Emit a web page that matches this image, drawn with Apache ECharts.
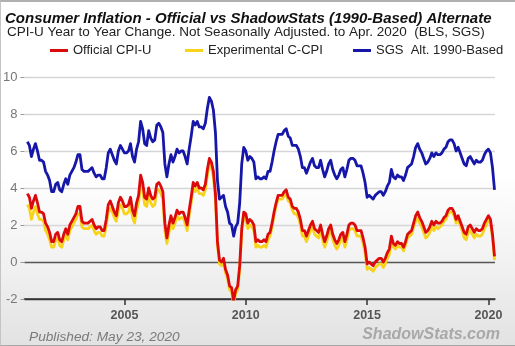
<!DOCTYPE html>
<html>
<head>
<meta charset="utf-8">
<script src="https://cdn.jsdelivr.net/npm/echarts@6/dist/echarts.min.js"></script>
<style>
html,body{margin:0;padding:0;}
body{width:515px;height:346px;overflow:hidden;background:linear-gradient(to bottom,#ffffff 0%,#ffffff 50%,#f2f2f2 75%,#e2e2e2 100%);}
#frame{position:absolute;left:0;top:0;width:514px;height:343px;border-top:2px solid #b0b0b0;border-left:1px solid #c4c4c4;border-bottom:1px solid #a8a8a8;}
#chart{position:absolute;left:0;top:0;width:515px;height:346px;}
</style>
</head>
<body>
<div id="frame"></div>
<div id="chart"></div>
<script>
// ---- Data (monthly, Jan 2001 - Apr 2020) ----
const startYear = 2001;
const xTickYears = [2005, 2010, 2015, 2020];
const yTicks = [-2, 0, 2, 4, 6, 8, 10];

const officialCPI = [
 3.7,3.5,2.9,3.3,3.6,3.2,2.7,2.7,2.6,2.1,1.9,1.6,
 1.1,1.1,1.5,1.6,1.2,1.1,1.5,1.8,1.5,2.0,2.2,2.4,
 2.6,3.0,3.0,2.2,2.1,2.1,2.1,2.2,2.3,2.0,1.8,1.9,
 1.9,1.7,1.7,2.3,3.1,3.3,3.0,2.7,2.5,3.2,3.5,3.3,
 3.0,3.0,3.1,3.5,2.8,2.5,3.2,3.6,4.7,4.3,3.5,3.4,
 4.0,3.6,3.4,3.5,4.2,4.3,4.1,3.8,2.1,1.3,2.0,2.5,
 2.1,2.4,2.8,2.6,2.7,2.7,2.4,2.0,2.8,3.5,4.3,4.1,
 4.3,4.0,4.0,3.9,4.2,5.0,5.6,5.4,4.9,3.7,1.1,0.1,
 0.0,0.2,-0.4,-0.7,-1.3,-1.4,-2.1,-1.5,-1.3,-0.2,1.8,2.7,
 2.6,2.1,2.3,2.2,2.0,1.1,1.2,1.1,1.1,1.2,1.1,1.5,
 1.6,2.1,2.7,3.2,3.6,3.6,3.6,3.8,3.9,3.5,3.4,3.0,
 2.9,2.9,2.7,2.3,1.7,1.7,1.4,1.7,2.0,2.2,1.8,1.7,
 1.6,2.0,1.5,1.1,1.4,1.8,2.0,1.5,1.2,1.0,1.2,1.5,
 1.6,1.1,1.5,2.0,2.1,2.1,2.0,1.7,1.7,1.7,1.3,0.8,
 -0.1,0.0,-0.1,-0.2,0.0,0.1,0.2,0.2,0.0,0.2,0.5,0.7,
 1.4,1.0,0.9,1.1,1.0,1.0,0.8,1.1,1.5,1.6,1.7,2.1,
 2.5,2.7,2.4,2.2,1.9,1.6,1.7,1.9,2.2,2.0,2.2,2.1,
 2.1,2.2,2.4,2.5,2.8,2.9,2.9,2.7,2.3,2.5,2.2,1.9,
 1.6,1.5,1.9,2.0,1.8,1.6,1.8,1.7,1.7,1.8,2.1,2.3,
 2.5,2.3,1.5,0.3
];

const experimentalCCPI = [
 3.1,2.9,2.3,2.7,3.0,2.6,2.3,2.3,2.2,1.7,1.5,1.2,
 0.8,0.8,1.2,1.3,0.9,0.8,1.2,1.5,1.2,1.7,1.9,2.1,
 2.3,2.6,2.6,1.9,1.8,1.8,1.8,1.9,2.0,1.7,1.5,1.6,
 1.6,1.4,1.4,2.0,2.7,2.9,2.7,2.4,2.2,2.8,3.1,2.9,
 2.6,2.6,2.7,3.1,2.4,2.1,2.8,3.2,4.3,3.9,3.1,3.0,
 3.6,3.2,3.0,3.1,3.8,3.9,3.7,3.4,1.7,1.0,1.6,2.1,
 1.8,2.1,2.5,2.3,2.4,2.4,2.1,1.7,2.5,3.2,4.0,3.8,
 4.0,3.7,3.7,3.6,3.9,4.7,5.3,5.1,4.6,3.4,0.9,-0.1,
 -0.2,0.0,-0.6,-0.9,-1.5,-1.6,-2.3,-1.7,-1.5,-0.4,1.6,2.5,
 2.3,1.8,2.0,1.9,1.7,0.8,0.9,0.8,0.8,0.9,0.8,1.2,
 1.4,1.9,2.5,3.0,3.4,3.4,3.4,3.6,3.7,3.3,3.2,2.8,
 2.6,2.6,2.4,2.0,1.4,1.4,1.1,1.4,1.7,1.9,1.5,1.4,
 1.3,1.7,1.2,0.8,1.1,1.5,1.7,1.2,0.9,0.7,0.9,1.2,
 1.3,0.8,1.2,1.7,1.8,1.8,1.7,1.4,1.4,1.4,1.0,0.5,
 -0.4,-0.3,-0.4,-0.5,-0.3,-0.2,-0.1,-0.1,-0.3,-0.1,0.2,0.4,
 1.2,0.8,0.7,0.9,0.8,0.8,0.6,0.9,1.3,1.4,1.5,1.9,
 2.2,2.4,2.1,1.9,1.6,1.3,1.4,1.6,1.9,1.7,1.9,1.8,
 1.9,2.0,2.2,2.3,2.6,2.7,2.7,2.5,2.1,2.3,2.0,1.7,
 1.3,1.2,1.6,1.7,1.5,1.3,1.5,1.4,1.4,1.5,1.8,2.0,
 2.3,2.1,1.3,0.1
];

const sgsAlt1990 = [
 6.5,6.3,5.7,6.1,6.4,6.0,5.5,5.5,5.4,4.9,4.7,4.4,
 3.8,3.8,4.2,4.3,3.9,3.8,4.2,4.5,4.2,4.7,4.9,5.1,
 5.4,5.8,5.8,5.0,4.9,4.9,4.9,5.0,5.1,4.8,4.6,4.7,
 4.7,4.5,4.5,5.1,5.9,6.1,5.8,5.5,5.3,6.0,6.3,6.1,
 5.9,5.9,6.0,6.4,5.7,5.4,6.1,6.5,7.6,7.2,6.4,6.3,
 7.1,6.7,6.5,6.6,7.4,7.5,7.3,7.0,5.3,4.6,5.3,5.8,
 5.4,5.7,6.1,5.9,6.0,6.0,5.7,5.3,6.1,6.8,7.6,7.4,
 7.6,7.3,7.3,7.2,7.5,8.3,8.9,8.7,8.2,7.0,4.4,3.4,
 3.5,3.6,3.0,2.7,2.1,2.0,1.4,1.9,2.1,3.2,5.3,6.2,
 6.0,5.5,5.7,5.6,5.4,4.5,4.6,4.5,4.5,4.6,4.5,4.9,
 4.9,5.4,6.0,6.5,6.9,6.9,6.9,7.1,7.2,6.8,6.7,6.3,
 6.3,6.3,6.1,5.7,5.1,5.1,4.8,5.1,5.4,5.6,5.2,5.1,
 5.1,5.5,5.0,4.6,4.9,5.3,5.5,5.0,4.7,4.5,4.7,5.0,
 5.1,4.6,5.0,5.5,5.6,5.6,5.5,5.2,5.2,5.2,4.8,4.3,
 3.5,3.6,3.5,3.4,3.6,3.7,3.8,3.8,3.6,3.8,4.1,4.3,
 5.0,4.6,4.5,4.7,4.6,4.6,4.4,4.7,5.1,5.2,5.3,5.7,
 6.2,6.4,6.1,5.9,5.6,5.3,5.4,5.6,5.9,5.7,5.9,5.8,
 5.8,5.9,6.1,6.2,6.5,6.6,6.6,6.4,6.0,6.2,5.9,5.6,
 5.3,5.2,5.6,5.7,5.5,5.3,5.5,5.4,5.4,5.5,5.8,6.0,
 6.1,5.9,5.1,3.9
];

const seriesNames = ['Official CPI-U', 'Experimental C-CPI', 'SGS  Alt. 1990-Based'];

// month categories
const months = officialCPI.map((_, i) => {
  const y = startYear + Math.floor(i / 12);
  const m = (i % 12) + 1;
  return y + '-' + (m < 10 ? '0' + m : m);
});
function toX(label) { const p = label.split('-'); return +p[0] + (+p[1] - 1) / 12; }
function pairs(vals) { return vals.map((v, i) => [toX(months[i]), v]); }

const chart = echarts.init(document.getElementById('chart'), null, {renderer: 'canvas'});
const FONT = '"Liberation Sans", Arial, sans-serif';
const legendText = {fontFamily: FONT, fontSize: 13, color: '#222'};
function legendFor(name, left) {
  return {left: left, top: 44, itemWidth: 18, itemHeight: 3, itemGap: 0, icon: 'rect',
          padding: 0, textStyle: legendText, data: [name]};
}
chart.setOption({
  backgroundColor: 'transparent',
  animation: false,
  textStyle: {fontFamily: FONT},
  title: [
    {text: 'Consumer Inflation - Official vs ShadowStats (1990-Based) Alternate', left: 0, top: 6,
     textStyle: {fontFamily: FONT, fontSize: 15, fontWeight: 'bold', fontStyle: 'italic', color: '#111'}},
    {text: 'CPI-U Year to Year Change. Not Seasonally Adjusted. to Apr. 2020  (BLS, SGS)', left: 2, top: 20,
     textStyle: {fontFamily: FONT, fontSize: 13.5, fontWeight: 'normal', color: '#222'}},
    {text: 'Published: May 23, 2020', left: 24, top: 325,
     textStyle: {fontFamily: FONT, fontSize: 13.7, fontWeight: 'normal', fontStyle: 'italic', color: '#7a7a7a'}},
    {text: 'ShadowStats.com', right: 10, top: 322,
     textStyle: {fontFamily: FONT, fontSize: 16, fontWeight: 'bold', fontStyle: 'italic', color: '#a8a8a8'}}
  ],
  legend: [legendFor(seriesNames[0], 50), legendFor(seriesNames[1], 185), legendFor(seriesNames[2], 353)],
  grid: {left: 21, top: 77, width: 474, height: 222, containLabel: false},
  xAxis: {
    type: 'value', min: 2000.88, max: 2020.27, position: 'bottom',
    axisLine: {show: true, onZero: false, lineStyle: {color: '#333', width: 1.5}},
    axisTick: {show: true, customValues: xTickYears, length: 6, lineStyle: {color: '#333', width: 1.5}},
    axisLabel: {customValues: xTickYears, margin: 10, fontFamily: FONT, fontSize: 12.5, fontWeight: 'bold', color: '#555',
                formatter: v => String(Math.round(v))},
    splitLine: {show: false}
  },
  yAxis: {
    type: 'value', min: -2, max: 10, interval: 2,
    axisLine: {show: false},
    axisTick: {show: true, length: 4, lineStyle: {color: '#999'}},
    axisLabel: {margin: 7, fontFamily: FONT, fontSize: 13, color: '#777'},
    splitLine: {show: true, showMinLine: true, showMaxLine: true,
                lineStyle: {color: ['#3a3a3a', '#555', '#d6d6d6', '#d6d6d6', '#d6d6d6', '#d6d6d6', '#d6d6d6'], width: 1.3}}
  },
  series: [
    {name: seriesNames[1], type: 'line', data: pairs(experimentalCCPI), showSymbol: false,
     lineStyle: {color: '#f8d31c', width: 2.8, join: 'round'}, itemStyle: {color: '#f8d31c'}, z: 2},
    {name: seriesNames[0], type: 'line', data: pairs(officialCPI), showSymbol: false,
     lineStyle: {color: '#dc0a0a', width: 2.8, join: 'round'}, itemStyle: {color: '#dc0a0a'}, z: 3},
    {name: seriesNames[2], type: 'line', data: pairs(sgsAlt1990), showSymbol: false,
     lineStyle: {color: '#1616a8', width: 2.8, join: 'round'}, itemStyle: {color: '#1616a8'}, z: 4}
  ]
});
</script>
</body>
</html>
